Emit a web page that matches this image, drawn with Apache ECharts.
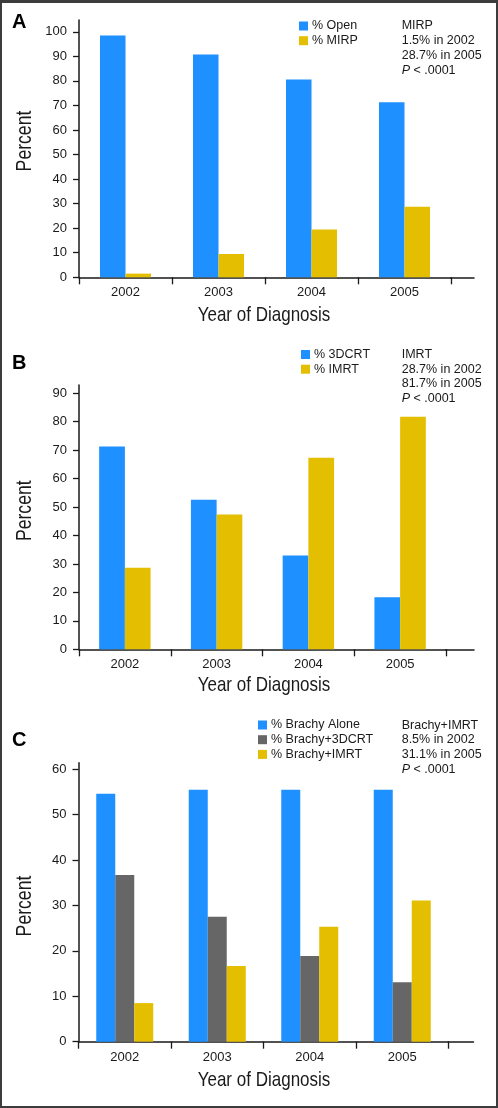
<!DOCTYPE html>
<html>
<head>
<meta charset="utf-8">
<script src="https://cdn.jsdelivr.net/npm/echarts@6/dist/echarts.min.js"></script>
<style>
html,body{margin:0;padding:0;background:#fff;}
#c{width:498px;height:1108px;position:relative;}
#frame{position:absolute;left:0;top:0;width:498px;height:1108px;box-sizing:border-box;border:2px solid #3c3c3c;border-top-width:3px;pointer-events:none;}
</style>
</head>
<body>
<div id="c"></div>
<div id="frame"></div>
<script>
// ---- data ----
const years = ['2002', '2003', '2004', '2005'];
const openPct = [98.5, 90.7, 80.6, 71.3];
const mirpPct = [1.5, 9.5, 19.5, 28.7];
const crt3dPct = [71.3, 52.6, 33.0, 18.3];
const imrtPct = [28.7, 47.4, 67.3, 81.7];
const brachyAlonePct = [54.6, 55.5, 55.5, 55.5];
const brachy3dcrtPct = [36.7, 27.5, 18.9, 13.1];
const brachyImrtPct = [8.5, 16.7, 25.3, 31.1];
const ticksA = [0, 10, 20, 30, 40, 50, 60, 70, 80, 90, 100];
const ticksB = [0, 10, 20, 30, 40, 50, 60, 70, 80, 90];
const ticksC = [0, 10, 20, 30, 40, 50, 60];
const statsA = ['MIRP', '1.5% in 2002', '28.7% in 2005', '{i|P} < .0001'];
const statsB = ['IMRT', '28.7% in 2002', '81.7% in 2005', '{i|P} < .0001'];
const statsC = ['Brachy+IMRT', '8.5% in 2002', '31.1% in 2005', '{i|P} < .0001'];
const xTitle = 'Year of Diagnosis';
const yTitle = 'Percent';

const BLUE = '#1e90ff', YELLOW = '#e4be00', GRAY = '#666666';
const INK = '#1a1a1a';
const FONT = "'Liberation Sans', Arial, sans-serif";

const panels = [
  {letter: 'A', letterY: 22, left: 79, top: 20, width: 372, height: 257.3, ext: 23, max: 104.8, ticks: ticksA,
   barW: 25.5, nameY: 315.5, percentY: 141,
   series: [['% Open', openPct, BLUE], ['% MIRP', mirpPct, YELLOW]],
   legendLeft: 299, legendTop: 19.5, stats: statsA, statsTop: 18.6},
  {letter: 'B', letterY: 363, left: 79, top: 385, width: 367, height: 264.3, ext: 28, max: 92.9, ticks: ticksB,
   barW: 25.7, nameY: 685.5, percentY: 510.7,
   series: [['% 3DCRT', crt3dPct, BLUE], ['% IMRT', imrtPct, YELLOW]],
   legendLeft: 301, legendTop: 348, stats: statsB, statsTop: 347.2},
  {letter: 'C', letterY: 740, left: 78.5, top: 762.7, width: 370, height: 279, ext: 25, max: 61.45, ticks: ticksC,
   barW: 19, nameY: 1080.5, percentY: 906,
   series: [['% Brachy Alone', brachyAlonePct, BLUE], ['% Brachy+3DCRT', brachy3dcrtPct, GRAY], ['% Brachy+IMRT', brachyImrtPct, YELLOW]],
   legendLeft: 258, legendTop: 718.5, stats: statsC, statsTop: 717.7}
];

const option = {
  animation: false,
  backgroundColor: '#fff',
  grid: [], xAxis: [], yAxis: [], series: [], legend: [], title: [], graphic: []
};

panels.forEach((p) => {
  const gi = option.grid.length;
  option.grid.push({left: p.left, top: p.top, width: p.width, height: p.height, containLabel: false, outerBoundsMode: 'none'});
  // axis line extension beyond the last category tick
  option.grid.push({left: p.left + p.width, top: p.top, width: p.ext, height: p.height, containLabel: false, outerBoundsMode: 'none'});

  option.xAxis.push({
    type: 'category', gridIndex: gi, data: years, boundaryGap: true,
    axisLine: {show: true, lineStyle: {color: INK, width: 1.5}},
    axisTick: {show: true, length: 7, lineStyle: {color: INK, width: 1.3}},
    axisLabel: {color: INK, fontFamily: FONT, fontSize: 13, margin: 8.5, lineHeight: 14},
    splitLine: {show: false}
  });
  option.xAxis.push({
    type: 'value', gridIndex: gi + 1, min: 0, max: 1,
    axisLine: {show: true, onZero: false, lineStyle: {color: INK, width: 1.5}},
    axisTick: {show: false}, axisLabel: {show: false}, splitLine: {show: false}
  });
  option.yAxis.push({
    type: 'value', gridIndex: gi, min: 0, max: p.max, interval: 10,
    axisLine: {show: true, lineStyle: {color: INK, width: 1.5}},
    axisTick: {show: true, length: 6, customValues: p.ticks, lineStyle: {color: INK, width: 1.3}},
    axisLabel: {color: INK, fontFamily: FONT, fontSize: 13, margin: 12, customValues: p.ticks},
    splitLine: {show: false}
  });
  option.yAxis.push({type: 'value', gridIndex: gi + 1, min: 0, max: 1, show: false});

  p.series.forEach(([name, vals, color]) => {
    option.series.push({
      type: 'bar', name: name, xAxisIndex: gi, yAxisIndex: gi, data: vals,
      barWidth: p.barW, barGap: '0%', itemStyle: {color: color}, emphasis: {disabled: true}
    });
  });

  option.legend.push({
    data: p.series.map(s => s[0]), orient: 'vertical', left: p.legendLeft, top: p.legendTop,
    padding: 0, itemGap: 1.7, itemWidth: 9, itemHeight: 9, icon: 'rect', selectedMode: false,
    textStyle: {color: INK, fontFamily: FONT, fontSize: 12.5, lineHeight: 13, padding: [0, 0, 0, -1]}
  });

  option.title.push({
    text: p.stats.join('\n'), left: 401.7, top: p.statsTop, padding: 0,
    textStyle: {color: INK, fontFamily: FONT, fontSize: 12.5, fontWeight: 'normal', lineHeight: 14.7,
      rich: {i: {fontStyle: 'italic', fontFamily: FONT, fontSize: 12.5, color: INK, lineHeight: 14.7}}}
  });
  option.title.push({
    text: p.letter, left: 12, top: p.letterY - 10, padding: 0,
    textStyle: {color: '#000', fontFamily: FONT, fontSize: 20, fontWeight: 'bold', lineHeight: 20}
  });

  // condensed axis titles (Liberation Sans compressed horizontally)
  option.graphic.push({
    type: 'text', x: 264, y: p.nameY, scaleX: 0.81,
    style: {text: xTitle, fill: INK, font: "21px " + FONT, align: 'center', verticalAlign: 'middle'}
  });
  option.graphic.push({
    type: 'text', x: 25.5, y: p.percentY, rotation: Math.PI / 2, scaleX: 0.82,
    style: {text: yTitle, fill: INK, font: "21.5px " + FONT, align: 'center', verticalAlign: 'middle'}
  });
});

const chart = echarts.init(document.getElementById('c'), null, {renderer: 'canvas'});
chart.setOption(option);
</script>
</body>
</html>
